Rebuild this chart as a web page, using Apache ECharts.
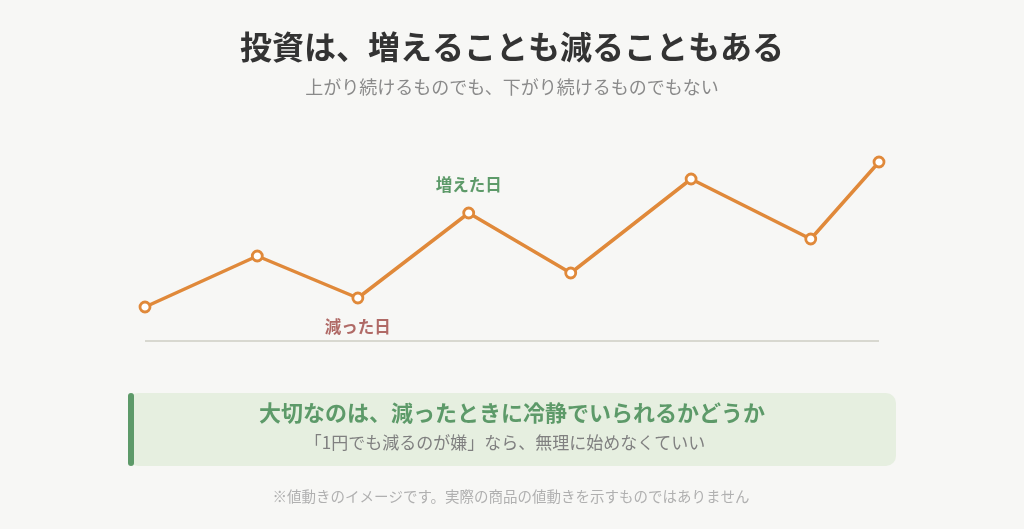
<!DOCTYPE html>
<html><head><meta charset="utf-8">
<script src="https://cdn.jsdelivr.net/npm/echarts@6/dist/echarts.min.js"></script>
<style>html,body{margin:0;padding:0;background:#f7f7f5;}#c{width:1024px;height:529px;}</style>
</head><body><div id="c"></div>
<script>
const dayPos = [0, 15.3, 29.0, 44.1, 58.0, 74.4, 90.7, 100];
const prices = [34, 85, 43, 128, 68, 162, 102, 179];
const upLabel = '増えた日';
const downLabel = '減った日';
const upIndex = 3;
const downIndex = 2;
const titleText = '投資は、増えることも減ることもある';
const subtitleText = '上がり続けるものでも、下がり続けるものでもない';
const calloutTitle = '大切なのは、減ったときに冷静でいられるかどうか';
const calloutSub = '「1円でも減るのが嫌」なら、無理に始めなくていい';
const footnote = '※値動きのイメージです。実際の商品の値動きを示すものではありません';

const font = '"Noto Sans CJK JP", "Noto Sans", sans-serif';
const data = dayPos.map((x, i) => {
  const item = { value: [x, prices[i]] };
  if (i === upIndex) item.label = { show: true, formatter: upLabel, position: 'top', distance: 14, color: '#5d9a69', fontWeight: 'bold', fontSize: 16.5, fontFamily: font };
  if (i === downIndex) item.label = { show: true, formatter: downLabel, position: 'bottom', distance: 14, color: '#b06a66', fontWeight: 'bold', fontSize: 16.5, fontFamily: font };
  return item;
});

const chart = echarts.init(document.getElementById('c'));
chart.setOption({
  backgroundColor: '#f7f7f5',
  animation: false,
  textStyle: { fontFamily: font },
  grid: { left: 145, right: 145, top: 141, bottom: 188 },
  xAxis: { type: 'value', min: 0, max: 100, axisLine: { show: false }, axisTick: { show: false }, axisLabel: { show: false }, splitLine: { show: false } },
  yAxis: { type: 'value', min: 0, max: 200, axisLine: { show: false }, axisTick: { show: false }, axisLabel: { show: false }, splitLine: { show: false } },
  series: [{
    type: 'line',
    data: data,
    symbol: 'circle',
    symbolSize: 10,
    lineStyle: { color: '#e0893a', width: 3.5 },
    itemStyle: { color: '#ffffff', borderColor: '#e0893a', borderWidth: 2.8 },
    label: { show: false },
    z: 3,
    markLine: {
      silent: true, symbol: 'none', label: { show: false },
      lineStyle: { color: '#d8d8d0', width: 2, type: 'solid' },
      data: [[{ coord: [0, 0] }, { coord: [100, 0] }]]
    }
  }],
  graphic: [
    { type: 'text', x: 512, y: 47, style: { text: titleText, align: 'center', verticalAlign: 'middle', font: 'bold 32px ' + font, fill: '#333333' } },
    { type: 'text', x: 512, y: 87, style: { text: subtitleText, align: 'center', verticalAlign: 'middle', font: '18px ' + font, fill: '#8a8a8a' } },
    { type: 'rect', shape: { x: 128, y: 393, width: 768, height: 73, r: 10 }, style: { fill: '#e6efe0' } },
    { type: 'rect', shape: { x: 128, y: 393, width: 6, height: 73, r: 3 }, style: { fill: '#5d9a69' } },
    { type: 'text', x: 512, y: 413, style: { text: calloutTitle, align: 'center', verticalAlign: 'middle', font: 'bold 22px ' + font, fill: '#5d9a69' } },
    { type: 'text', x: 505, y: 443, style: { text: calloutSub, align: 'center', verticalAlign: 'middle', font: '17px ' + font, fill: '#808080' } },
    { type: 'text', x: 511, y: 496, style: { text: footnote, align: 'center', verticalAlign: 'middle', font: '14.5px ' + font, fill: '#b0b0b0' } }
  ]
});
</script></body></html>
